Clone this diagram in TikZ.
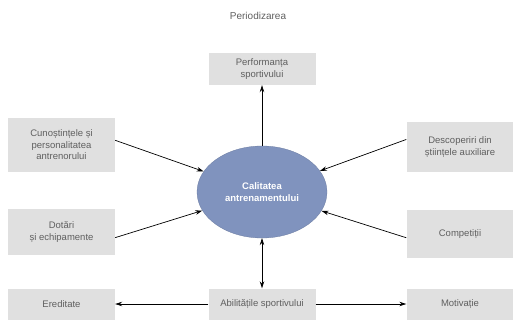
\documentclass[tikz,border=0pt]{standalone}
\usepackage{fontspec}
\setmainfont{Liberation Sans}
\usepackage{tikz}
\usetikzlibrary{shapes.geometric,arrows.meta}
\usepackage{xcolor}
\definecolor{boxgray}{RGB}{224,224,224}
\definecolor{ellblue}{RGB}{128,147,190}
\definecolor{txtgray}{RGB}{95,95,95}

\begin{document}
\begin{tikzpicture}[
  x=1pt, y=-1pt,
  >=Stealth,
  box/.style={fill=boxgray, minimum width=107pt, inner sep=2pt, font=\fontsize{9.5}{11.5}\selectfont, text=txtgray, align=center},
  core/.style={ellipse, fill=ellblue, draw=ellblue!85!black, line width=0.3pt, minimum width=130pt, minimum height=92pt, inner sep=0pt, font=\fontsize{9.5}{11.5}\selectfont\bfseries, text=white, align=center},
  arr/.style={->, line width=0.7pt, >={Stealth[length=7pt,width=4.5pt]}},
  darr/.style={<->, line width=0.7pt, >={Stealth[length=7pt,width=4.5pt]}},
]
\useasboundingbox (0,0) rectangle (513,326);

% Title
\node[font=\fontsize{10}{12}\selectfont, text=txtgray] (title) at (258,16) {Periodizarea};

% Centre
\node[core] (cal) at (262,192) {Calitatea\\antrenamentului};
\node[box, minimum height=32pt] (perf) at (262,69) {Performanța\\sportivului};
\node[box, minimum height=31pt] (abil) at (262,304) {Abilitățile sportivului};

% Left side
\node[box, minimum height=54pt] (cun) at (61.5,145) {Cunoștințele și\\personalitatea\\antrenorului};
\node[box, minimum height=46pt] (dot) at (61.5,232) {Dotări\\și echipamente};
\node[box, minimum height=31pt] (ered) at (61.5,304) {Ereditate};

% Right side
\node[box, minimum height=50pt] (desc) at (460,147) {Descoperiri din\\științele auxiliare};
\node[box, minimum height=48pt] (comp) at (460,234) {Competiții};
\node[box, minimum height=31pt] (motiv) at (460,304) {Motivație};

% Arrows
\draw[arr] (cal) -- (perf);
\draw[darr] (cal) -- (abil);
\draw[arr] (cun.5) -- (cal);
\draw[arr] (dot.-6) -- (cal);
\draw[arr] (desc.172) -- (cal);
\draw[arr] (comp.184) -- (cal);
\draw[arr] (abil) -- (ered);
\draw[arr] (abil) -- (motiv);
\end{tikzpicture}
\end{document}
